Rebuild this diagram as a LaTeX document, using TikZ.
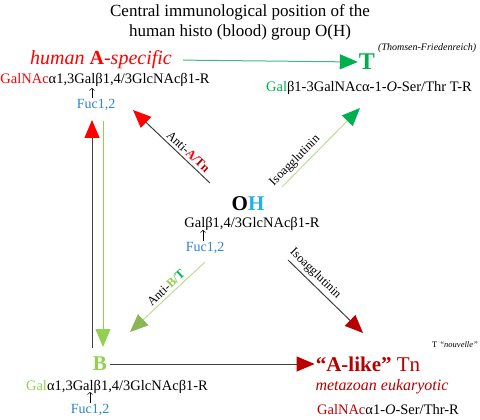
\documentclass[tikz,border=0pt]{standalone}
\usepackage{fontspec}
\setmainfont{Liberation Serif}
\usetikzlibrary{arrows.meta, positioning}
\definecolor{redA}{HTML}{FF0000}
\definecolor{redTn}{HTML}{B80000}
\definecolor{greenT}{HTML}{00B050}
\definecolor{greenB}{HTML}{92D050}
\definecolor{blueF}{HTML}{2E86C8}
\definecolor{blueH}{HTML}{1FB0EE}
\definecolor{paleG}{HTML}{BEDC98}
\definecolor{oliveG}{HTML}{8AB656}
\definecolor{mintG}{HTML}{3DBB7C}
\definecolor{darkL}{HTML}{404040}
\newcommand{\sz}[1]{\fontsize{#1}{#1}\selectfont}

\begin{document}
\begin{tikzpicture}[x=1pt, y=-1pt, inner sep=1pt,
  sugar/.style={font=\sz{14.5}},
  fuc/.style={font=\sz{14}, text=blueF},
  fucarrow/.style={-{To[length=2.5pt]}, line width=0.5pt},
  tip/.style={-{Triangle[length=18pt,width=15pt,color=#1]}, line width=1pt},
  lbl/.style={font=\sz{12.5}, sloped, above, inner sep=3pt}]
\useasboundingbox (0,0) rectangle (480,420);

% title
\node[align=center, font=\sz{17}] (title) at (240,22)
  {Central immunological position of the\\[3pt]human histo (blood) group O(H)};

% A (top left)
\node[text=redA, font=\sz{20}\itshape] (HA) at (101,60) {human \textup{\textbf{A}}-specific};
\node[sugar] (GA) at (105,80) {\textcolor{redA}{GalNAc}α1,3Galβ1,4/3GlcNAcβ1-R};
\node[fuc] (FA) at (96,105) {Fuc1,2};
\draw[fucarrow] ([xshift=-4pt]FA.north) -- ++(0,-10);

% T (top right)
\node[text=greenT, font=\sz{24}\bfseries] (T) at (367,62) {T};
\node[font=\sz{10}\itshape, anchor=west] (TF) at (377,48) {(Thomsen-Friedenreich)};
\node[sugar] (GT) at (369,88) {\textcolor{greenT}{Gal}β1-3GalNAcα-1-\textit{O}-Ser/Thr T-R};

% O(H) (centre)
\node[font=\sz{21}\bfseries] (O) at (248,204) {O\textcolor{blueH}{H}};
\node[sugar] (GO) at (252,224) {Galβ1,4/3GlcNAcβ1-R};
\node[fuc] (FO) at (205,248) {Fuc1,2};
\draw[fucarrow] ([xshift=-2pt]FO.north) -- ++(0,-11);

% B (bottom left)
\node[text=greenB, font=\sz{21}\bfseries] (B) at (100,364) {B};
\node[sugar] (GB) at (117,387) {\textcolor{greenB}{Gal}α1,3Galβ1,4/3GlcNAcβ1-R};
\node[fuc] (FB) at (90,410) {Fuc1,2};
\draw[fucarrow] (FB.north) -- ++(0,-11);

% A-like Tn (bottom right)
\node[text=redTn, font=\sz{21}] (Tn) at (368,364) {\textbf{“A-like”} Tn};
\node[font=\sz{8.5}, anchor=west] (nv) at (431,345) {T \textit{“nouvelle”}};
\node[text=redTn, font=\sz{16}\itshape] (mz) at (382,387) {metazoan eukaryotic};
\node[sugar] (GTn) at (388,410) {\textcolor{redTn}{GalNAc}α1-\textit{O}-Ser/Thr-R};

% arrow ends
\coordinate (v1) at (92,348);
\coordinate (v2) at (92,120);
\coordinate (w1) at (103,121);
\coordinate (w2) at (103,347);
\coordinate (a1) at (210,183);
\coordinate (a2) at (133,110);
\coordinate (t1) at (282,187);
\coordinate (t2) at (360,108);
\coordinate (n1) at (288,260);
\coordinate (n2) at (363,333);
\coordinate (b1) at (205,262);
\coordinate (b2) at (130,332);

% connectors
\draw[mintG, tip=greenT, shorten <=10pt] (HA.east) -- (T.west);
\draw[darkL, tip=redTn, shorten <=2pt] (B.east) -- (Tn.west);
\draw[darkL, tip=redA] (v1) -- (v2);
\draw[greenB, tip=greenB] (w1) -- (w2);
\draw[darkL, tip=redA] (a1) -- node[lbl, pos=.35, text=black]
  {Anti-\textbf{\textcolor{redA}{A/}\textcolor{redTn}{Tn}}} (a2);
\draw[paleG, tip=greenT] (t1) -- node[lbl, pos=.25, text=black] {Isoagglutinin} (t2);
\draw[darkL, tip=redTn] (n1) -- node[lbl, pos=.28, text=black] {Isoagglutinin} (n2);
\draw[paleG, tip=oliveG] (b1) -- node[lbl, pos=.45, text=black]
  {Anti-\textbf{\textcolor{greenB}{B/}\textcolor{greenT}{T}}} (b2);
\end{tikzpicture}
\end{document}
